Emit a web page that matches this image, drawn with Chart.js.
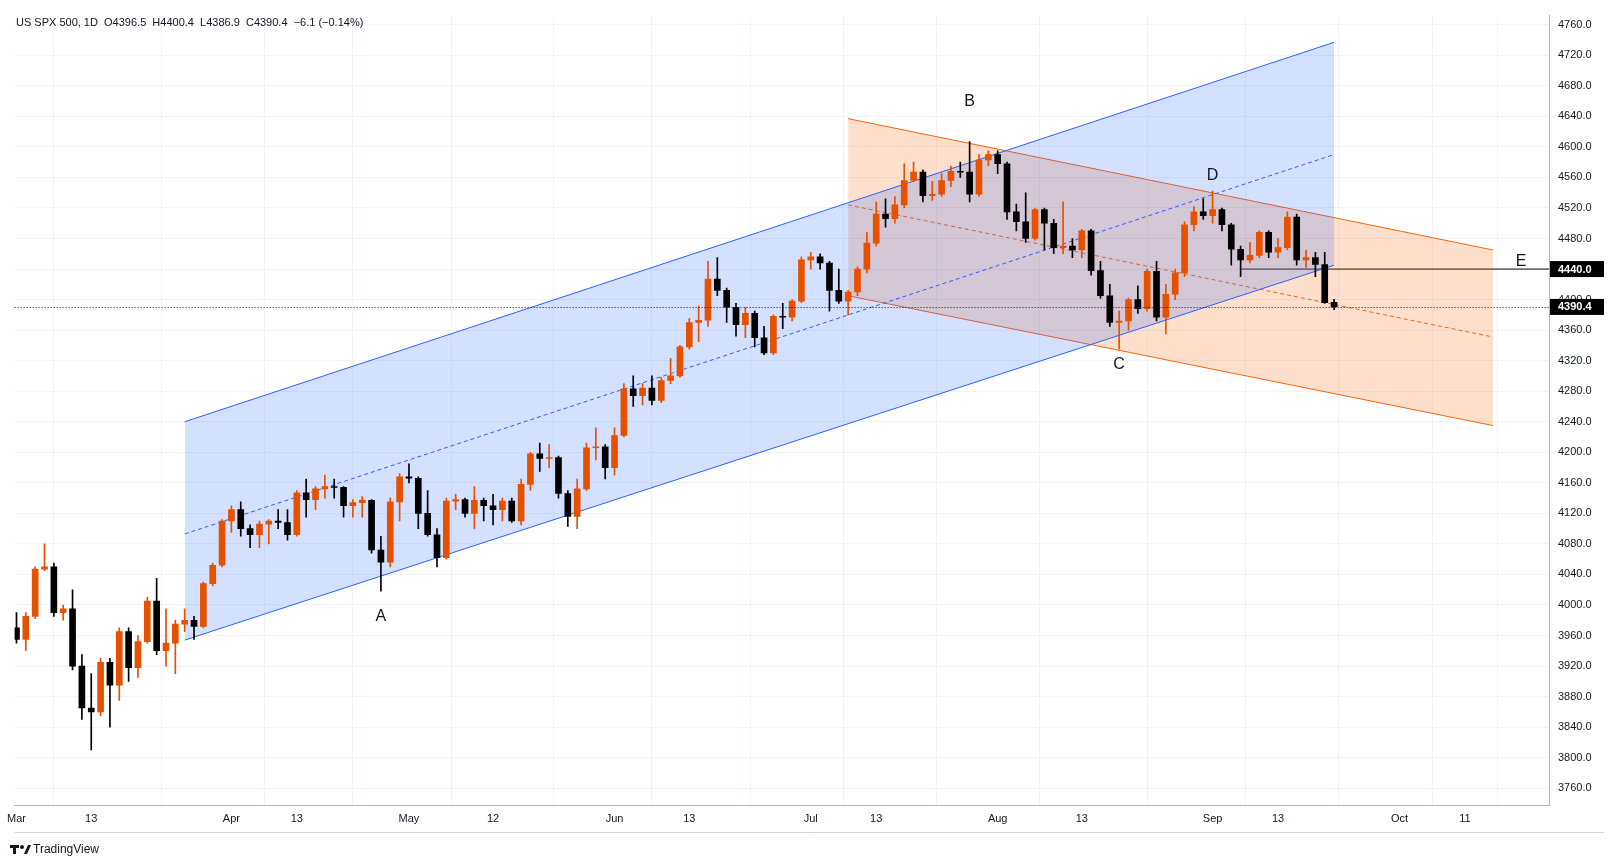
<!DOCTYPE html>
<html><head><meta charset="utf-8">
<script src="https://cdn.jsdelivr.net/npm/chart.js@4.4.0/dist/chart.umd.min.js"></script>
<style>html,body{margin:0;padding:0;background:#fff}#w{width:1613px;height:868px;position:relative}</style>
</head><body><div id="w"><canvas id="c"></canvas></div>
<script>
const candles = [
['2023-03-01',3970,3990,3950,3955],['2023-03-02',3955,3990,3940,3985],['2023-03-03',3985,4050,3982,4047],
['2023-03-06',4047,4080,4045,4050],['2023-03-07',4050,4055,3985,3990],['2023-03-08',3990,4000,3980,3995],
['2023-03-09',3995,4020,3915,3920],['2023-03-10',3920,3935,3850,3865],['2023-03-13',3865,3910,3810,3860],
['2023-03-14',3860,3930,3855,3925],['2023-03-15',3925,3930,3840,3895],['2023-03-16',3895,3970,3875,3965],
['2023-03-17',3965,3970,3900,3918],['2023-03-20',3918,3960,3905,3952],['2023-03-21',3952,4010,3950,4005],
['2023-03-22',4005,4035,3935,3940],['2023-03-23',3940,3995,3920,3950],['2023-03-24',3950,3980,3910,3975],
['2023-03-27',3975,3995,3965,3980],['2023-03-28',3980,3985,3955,3972],['2023-03-29',3972,4030,3970,4028],
['2023-03-30',4028,4055,4025,4052],['2023-03-31',4052,4112,4050,4110],
['2023-04-03',4110,4130,4095,4125],['2023-04-04',4125,4135,4090,4100],['2023-04-05',4100,4105,4075,4092],
['2023-04-06',4092,4110,4075,4106],['2023-04-10',4106,4112,4080,4110],['2023-04-11',4110,4125,4100,4108],
['2023-04-12',4108,4125,4085,4092],['2023-04-13',4092,4150,4090,4147],['2023-04-14',4147,4165,4115,4138],
['2023-04-17',4138,4155,4125,4152],['2023-04-18',4152,4170,4140,4155],['2023-04-19',4155,4165,4140,4154],
['2023-04-20',4154,4155,4115,4130],['2023-04-21',4130,4138,4115,4134],['2023-04-24',4134,4142,4115,4137],
['2023-04-25',4137,4138,4068,4072],['2023-04-26',4072,4090,4018,4056],['2023-04-27',4056,4140,4050,4135],
['2023-04-28',4135,4172,4110,4168],
['2023-05-01',4168,4185,4160,4166],['2023-05-02',4166,4168,4100,4120],['2023-05-03',4120,4150,4090,4092],
['2023-05-04',4092,4100,4050,4062],['2023-05-05',4062,4140,4060,4136],['2023-05-08',4136,4145,4125,4138],
['2023-05-09',4138,4140,4115,4120],['2023-05-10',4120,4155,4100,4137],['2023-05-11',4137,4140,4110,4130],
['2023-05-12',4130,4145,4105,4125],['2023-05-15',4125,4140,4110,4136],['2023-05-16',4136,4140,4108,4110],
['2023-05-17',4110,4165,4105,4158],['2023-05-18',4158,4200,4150,4198],['2023-05-19',4198,4212,4175,4192],
['2023-05-22',4192,4210,4180,4193],['2023-05-23',4193,4195,4140,4146],['2023-05-24',4146,4150,4103,4116],
['2023-05-25',4116,4165,4100,4152],['2023-05-26',4152,4212,4150,4206],['2023-05-30',4206,4232,4190,4207],
['2023-05-31',4207,4210,4165,4180],
['2023-06-01',4180,4232,4170,4222],['2023-06-02',4222,4290,4220,4283],['2023-06-05',4283,4300,4260,4274],
['2023-06-06',4274,4290,4262,4284],['2023-06-07',4284,4300,4262,4268],['2023-06-08',4268,4298,4265,4294],
['2023-06-09',4294,4323,4290,4300],['2023-06-12',4300,4340,4298,4338],['2023-06-13',4338,4375,4335,4370],
['2023-06-14',4370,4392,4345,4373],['2023-06-15',4373,4450,4365,4427],['2023-06-16',4427,4455,4405,4412],
['2023-06-20',4412,4415,4370,4390],['2023-06-21',4390,4395,4352,4367],['2023-06-22',4367,4390,4350,4382],
['2023-06-23',4382,4385,4338,4350],['2023-06-26',4350,4365,4328,4330],['2023-06-27',4330,4380,4328,4378],
['2023-06-28',4378,4395,4362,4377],['2023-06-29',4377,4400,4372,4398],['2023-06-30',4398,4456,4396,4452],
['2023-07-03',4452,4462,4440,4456],['2023-07-05',4456,4460,4440,4448],['2023-07-06',4448,4450,4385,4412],
['2023-07-07',4412,4440,4395,4398],['2023-07-10',4398,4412,4380,4410],['2023-07-11',4410,4443,4405,4440],
['2023-07-12',4440,4488,4435,4474],['2023-07-13',4474,4528,4470,4512],['2023-07-14',4512,4532,4495,4506],
['2023-07-17',4506,4535,4500,4524],['2023-07-18',4524,4578,4520,4556],['2023-07-19',4556,4580,4555,4567],
['2023-07-20',4567,4570,4528,4536],['2023-07-21',4536,4555,4530,4538],['2023-07-24',4538,4565,4535,4556],
['2023-07-25',4556,4575,4548,4568],['2023-07-26',4568,4580,4560,4567],['2023-07-27',4567,4607,4528,4538],
['2023-07-28',4538,4590,4535,4583],['2023-07-31',4583,4595,4575,4590],
['2023-08-01',4590,4595,4565,4578],['2023-08-02',4578,4580,4505,4515],['2023-08-03',4515,4525,4490,4502],
['2023-08-04',4502,4540,4475,4480],['2023-08-07',4480,4520,4478,4518],['2023-08-08',4518,4520,4465,4500],
['2023-08-09',4500,4505,4460,4468],['2023-08-10',4468,4528,4460,4470],['2023-08-11',4470,4480,4455,4465],
['2023-08-14',4465,4492,4455,4490],['2023-08-15',4490,4492,4432,4438],['2023-08-16',4438,4450,4402,4405],
['2023-08-17',4405,4420,4365,4370],['2023-08-18',4370,4385,4335,4372],['2023-08-21',4372,4402,4360,4400],
['2023-08-22',4400,4418,4382,4388],['2023-08-23',4388,4440,4385,4437],['2023-08-24',4437,4450,4372,4377],
['2023-08-25',4377,4420,4355,4407],['2023-08-28',4407,4440,4400,4435],['2023-08-29',4435,4502,4430,4498],
['2023-08-30',4498,4522,4490,4515],['2023-08-31',4515,4532,4505,4510],
['2023-09-01',4510,4542,4500,4518],['2023-09-05',4518,4520,4490,4498],['2023-09-06',4498,4500,4445,4466],
['2023-09-07',4466,4470,4430,4452],['2023-09-08',4452,4475,4448,4458],['2023-09-11',4458,4490,4455,4488],
['2023-09-12',4488,4490,4455,4462],['2023-09-13',4462,4480,4455,4468],['2023-09-14',4468,4515,4465,4508],
['2023-09-15',4508,4512,4445,4452],['2023-09-18',4452,4465,4442,4455],['2023-09-19',4455,4462,4430,4446],
['2023-09-20',4446,4462,4395,4396],['2023-09-21',4396.5,4400.4,4386.9,4390.4]
];
const dates = candles.map(c=>c[0]);
const opens = candles.map(c=>c[1]);
const highs = candles.map(c=>c[2]);
const lows = candles.map(c=>c[3]);
const closes = candles.map(c=>c[4]);

const tickDates = ['2023-03-01','2023-03-13','2023-04-03','2023-04-13','2023-05-01','2023-05-12','2023-06-01','2023-06-13','2023-07-03','2023-07-13','2023-08-01','2023-08-14','2023-09-01','2023-09-13','2023-10-02','2023-10-11'];
const tickLabels = ['Mar','13','Apr','13','May','12','Jun','13','Jul','13','Aug','13','Sep','13','Oct','11'];
const yTicks = []; for (let v=3760; v<=4760; v+=40) yTicks.push(v);

const blueDates = ['2023-03-27','2023-09-21'];
const blueUpper = [4240,4737], blueMid = [4093,4590], blueLower = [3954,4445];
const orangeDates = ['2023-07-10','2023-10-16'];
const orangeUpper = [4637,4465], orangeMid = [4524,4351], orangeLower = [4405,4235];
const levelE = 4440, levelEStart = '2023-09-07';
const lastPrice = 4390.4;
const labelTexts = ['A','B','C','D','E'];
const labelDates = ['2023-04-26','2023-07-27','2023-08-18','2023-09-01','2023-10-19'];
const labelPrices = [3985,4660,4315,4562,4450];

function idx(d){
  const i = dates.indexOf(d); if (i>=0) return i;
  let cur = new Date(dates[dates.length-1]+'T12:00:00Z'), n = dates.length-1;
  const target = new Date(d+'T12:00:00Z');
  while (cur < target){ cur.setUTCDate(cur.getUTCDate()+1); const w=cur.getUTCDay(); if(w!==0&&w!==6) n++; }
  return n;
}
const XMIN=-0.2, XMAX=164;
const UP='#e65100', DN='#000000';
const cols = closes.map((c,i)=> c>=opens[i]?UP:DN);
const wick = candles.map((c,i)=>({x:i,y:[lows[i],highs[i]]}));
const body = candles.map((c,i)=>({x:i,y:[opens[i], Math.abs(closes[i]-opens[i])<0.8? opens[i]+ (closes[i]>=opens[i]?0.8:-0.8) : closes[i]]}));
const seg=(ds,vals)=>ds.map((d,i)=>({x:idx(d),y:vals[i]}));

const lineDs=(data,color,dash,fill,bg)=>({type:'line',data,borderColor:color,borderWidth:1,borderDash:dash||[],pointRadius:0,fill:fill||false,backgroundColor:bg||'transparent',order:5});

const overlay = {
  id:'overlay',
  afterDatasetsDraw(ch){
    const {ctx,scales:{x,y},chartArea:a}=ch;
    ctx.save();
    ctx.strokeStyle='#131722'; ctx.lineWidth=1; ctx.setLineDash([1,2]);
    const yl=Math.round(y.getPixelForValue(lastPrice))+0.5;
    ctx.beginPath(); ctx.moveTo(a.left,yl); ctx.lineTo(a.right,yl); ctx.stroke(); ctx.setLineDash([]);
    ctx.fillStyle='#131722'; ctx.font='16px "Liberation Sans", Arial, sans-serif'; ctx.textAlign='center'; ctx.textBaseline='middle';
    labelTexts.forEach((t,i)=>ctx.fillText(t,x.getPixelForValue(idx(labelDates[i])),y.getPixelForValue(labelPrices[i])));
    ctx.textAlign='left'; ctx.font='11px "Liberation Sans", Arial, sans-serif';
    ctx.fillText('US SPX 500, 1D  O4396.5  H4400.4  L4386.9  C4390.4  \u22126.1 (\u22120.14%)',16,23);
    ctx.restore();
  },
  afterDraw(ch){
    const {ctx,scales:{y},chartArea:a}=ch;
    ctx.save();
    [[levelE,'4440.0'],[lastPrice,'4390.4']].forEach(([v,t])=>{
      const py=y.getPixelForValue(v);
      ctx.fillStyle='#000'; ctx.fillRect(a.right+1,py-8,54,16);
      ctx.fillStyle='#fff'; ctx.font='bold 11px "Liberation Sans", Arial, sans-serif'; ctx.textBaseline='middle'; ctx.textAlign='left';
      ctx.fillText(t,a.right+9,py+0.5);
    });
    ctx.strokeStyle='#d1d4dc'; ctx.lineWidth=1;
    ctx.beginPath(); ctx.moveTo(a.left,a.bottom+27.5); ctx.lineTo(a.right+55,a.bottom+27.5); ctx.stroke();
    ctx.fillStyle='#131722';
    ctx.fillRect(10,845,9,3); ctx.fillRect(13,845,3,9);
    ctx.beginPath(); ctx.arc(22,847,2,0,7); ctx.fill();
    ctx.beginPath(); ctx.moveTo(24,854); ctx.lineTo(28,845); ctx.lineTo(31,845); ctx.lineTo(27,854); ctx.fill();
    ctx.font='12px "Liberation Sans", Arial, sans-serif'; ctx.textBaseline='middle';
    ctx.fillText('TradingView',33,850);
    ctx.restore();
  }
};

new Chart(document.getElementById('c'),{
  data:{datasets:[
    lineDs(seg(blueDates,blueUpper),'#2962ff',null,'+2','rgba(41,98,255,0.2)'),
    lineDs(seg(blueDates,blueMid),'#2962ff',[4,3]),
    lineDs(seg(blueDates,blueLower),'#2962ff'),
    lineDs(seg(orangeDates,orangeUpper),'#f7630c',null,'+2','rgba(245,110,20,0.22)'),
    lineDs(seg(orangeDates,orangeMid),'#f7630c',[4,3]),
    lineDs(seg(orangeDates,orangeLower),'#f7630c'),
    lineDs([{x:idx(levelEStart),y:levelE},{x:XMAX,y:levelE}],'#000'),
    {type:'bar',data:wick,backgroundColor:cols,barThickness:1,grouped:false,order:2},
    {type:'bar',data:body,backgroundColor:cols,barThickness:6,grouped:false,order:1}
  ]},
  options:{
    responsive:true,maintainAspectRatio:false,animation:false,
    layout:{padding:{left:10,top:8,right:10,bottom:37}},
    plugins:{legend:{display:false},tooltip:{enabled:false}},
    scales:{
      x:{type:'linear',min:XMIN,max:XMAX,offset:false,
        afterBuildTicks:s=>{s.ticks=tickDates.map(d=>({value:idx(d)}));},
        afterFit:s=>{s.height=26;},
        ticks:{autoSkip:false,maxRotation:0,color:'#131722',font:{size:11,family:'"Liberation Sans", Arial'},padding:7,
          callback:(v)=>{const i=tickDates.findIndex(d=>idx(d)===v);return i>=0?tickLabels[i]:'';}},
        grid:{color:'#f0f3fa',drawTicks:false},border:{color:'#b2b5be'}},
      y:{position:'right',min:3738,max:4772,
        afterBuildTicks:s=>{s.ticks=yTicks.map(v=>({value:v}));},
        afterFit:s=>{s.width=54;},
        ticks:{color:'#131722',font:{size:11,family:'"Liberation Sans", Arial'},padding:9,callback:v=>v.toFixed(1)},
        grid:{color:'#f0f3fa',drawTicks:false},border:{color:'#b2b5be'}}
    }
  },
  plugins:[overlay]
});
</script></body></html>
